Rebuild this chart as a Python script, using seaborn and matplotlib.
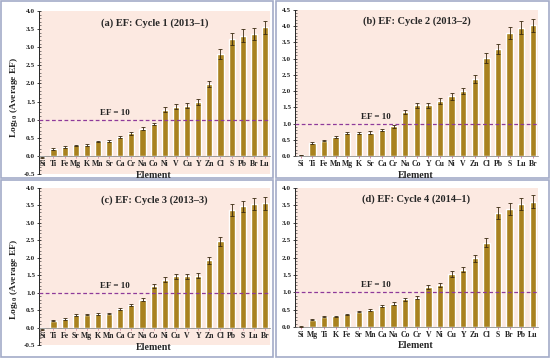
import numpy as np
import pandas as pd
import matplotlib
matplotlib.use("Agg")
import matplotlib.pyplot as plt
from matplotlib.patches import Rectangle
from matplotlib.ticker import MultipleLocator
import seaborn as sns

sns.set_style("ticks")
plt.rcParams['font.family'] = ['Liberation Serif', 'DejaVu Serif']
plt.rcParams['font.weight'] = 'bold'
plt.rcParams['mathtext.fontset'] = 'custom'
plt.rcParams['mathtext.rm'] = 'Liberation Serif:bold'
plt.rcParams['mathtext.bf'] = 'Liberation Serif:bold'
plt.rcParams['mathtext.it'] = 'Liberation Serif:bold'

# ---------------- data ----------------
titles = ["(a) EF: Cycle 1 (2013\u20131)", "(b) EF: Cycle 2 (2013\u20132)",
          "(c) EF: Cycle 3 (2013\u20133)", "(d) EF: Cycle 4 (2014\u20131)"]

elements_a = ["Si", "Ti", "Fe", "Mg", "K", "Mn", "Sr", "Ca", "Cr", "Na", "Co",
              "Ni", "V", "Cu", "Y", "Zn", "Cl", "S", "Pb", "Br", "Lu"]
values_a = [-0.04, 0.19, 0.25, 0.29, 0.30, 0.40, 0.41, 0.52, 0.62, 0.75, 0.88,
            1.27, 1.36, 1.39, 1.48, 1.99, 2.81, 3.23, 3.32, 3.37, 3.55]
errors_a = [0.02, 0.02, 0.02, 0.02, 0.02, 0.02, 0.02, 0.03, 0.03, 0.04, 0.04,
            0.07, 0.07, 0.07, 0.08, 0.09, 0.14, 0.16, 0.17, 0.17, 0.18]

elements_b = ["Si", "Ti", "Fe", "Mn", "Mg", "K", "Sr", "Ca", "Cr", "Na", "Co",
              "Y", "Cu", "Ni", "V", "Zn", "Cl", "Pb", "S", "Lu", "Br"]
values_b = [0.03, 0.40, 0.47, 0.60, 0.70, 0.72, 0.72, 0.80, 0.92, 1.36, 1.56,
            1.56, 1.70, 1.84, 2.00, 2.37, 3.02, 3.30, 3.80, 3.95, 4.03]
errors_b = [0.01, 0.02, 0.02, 0.03, 0.03, 0.03, 0.04, 0.04, 0.05, 0.07, 0.08,
            0.08, 0.09, 0.10, 0.10, 0.12, 0.15, 0.16, 0.19, 0.20, 0.20]

elements_c = ["Si", "Ti", "Fe", "Sr", "Mg", "K", "Mn", "Ca", "Cr", "Na", "Co",
              "Ni", "Cu", "V", "Y", "Zn", "Cl", "Pb", "S", "Lu", "Br"]
values_c = [-0.05, 0.20, 0.25, 0.36, 0.37, 0.39, 0.40, 0.52, 0.64, 0.80, 1.18,
            1.37, 1.47, 1.47, 1.48, 1.93, 2.47, 3.37, 3.47, 3.54, 3.56]
errors_c = [0.02, 0.02, 0.02, 0.02, 0.02, 0.02, 0.02, 0.03, 0.03, 0.04, 0.06,
            0.07, 0.07, 0.07, 0.07, 0.10, 0.12, 0.17, 0.17, 0.18, 0.18]

elements_d = ["Si", "Mg", "Ti", "K", "Fe", "Sr", "Mn", "Ca", "Na", "Co", "Cr",
              "V", "Ni", "Cu", "Y", "Zn", "Cl", "S", "Br", "Pb", "Lu"]
values_d = [0.01, 0.21, 0.30, 0.31, 0.36, 0.44, 0.49, 0.60, 0.67, 0.80, 0.84,
            1.16, 1.20, 1.52, 1.65, 1.98, 2.43, 3.28, 3.40, 3.54, 3.61]
errors_d = [0.01, 0.02, 0.02, 0.02, 0.02, 0.02, 0.03, 0.03, 0.04, 0.04, 0.04,
            0.06, 0.06, 0.08, 0.08, 0.10, 0.12, 0.16, 0.17, 0.17, 0.18]

ef_threshold = 1.0
ef_label = "EF = 10"

# ---------------- layout ----------------
W, H = 550, 358
fig = plt.figure(figsize=(5.5, 3.58), dpi=100)
fig.patch.set_facecolor("white")

def px_axes(l, t, r, b):
    return fig.add_axes([l / W, 1 - b / H, (r - l) / W, (b - t) / H])

panels = [
    dict(box=(39, 11, 270, 174), ylim=(-0.5, 4.0), el=elements_a, v=values_a, e=errors_a, xlim=(-0.3, 20.45)),
    dict(box=(295, 10, 538, 156), ylim=(0.0, 4.5), el=elements_b, v=values_b, e=errors_b, xlim=(-0.5, 20.45)),
    dict(box=(39, 188, 270, 345), ylim=(-0.5, 4.0), el=elements_c, v=values_c, e=errors_c, xlim=(-0.3, 20.45)),
    dict(box=(295, 188, 538, 327), ylim=(0.0, 4.0), el=elements_d, v=values_d, e=errors_d, xlim=(-0.5, 20.45)),
]

bar_color = "#A9821F"
bg_color = "#FCE9E1"
line_color = "#8E3A9A"

for p, title in zip(panels, titles):
    ax = px_axes(*p["box"])
    ax.set_facecolor(bg_color)
    df = pd.DataFrame({"Element": p["el"], "Value": p["v"]})
    sns.barplot(data=df, x="Element", y="Value", order=p["el"], color=bar_color,
                width=0.55, errorbar=None, saturation=1, ax=ax, zorder=2)
    ax.errorbar(np.arange(len(p["el"])), p["v"], yerr=p["e"], fmt="none",
                ecolor="#3a2a10", elinewidth=0.6, capsize=1.6, capthick=0.6, zorder=3)
    ax.axhline(ef_threshold, color=line_color, lw=0.9, ls=(0, (3, 2)), zorder=4)
    ax.text(6.5, ef_threshold + 0.08, ef_label, ha="center", va="bottom",
            fontsize=6.5, fontweight="bold", color="#222222", zorder=5)
    ax.set_ylim(*p["ylim"])
    ax.set_xlim(*p["xlim"])
    ax.yaxis.set_major_locator(MultipleLocator(0.5))
    ax.yaxis.set_minor_locator(MultipleLocator(0.1))
    ax.yaxis.set_major_formatter(matplotlib.ticker.FormatStrFormatter("%.1f"))
    for s in ["top", "right"]:
        ax.spines[s].set_visible(False)
    ax.spines["bottom"].set_position(("data", 0))
    ax.spines["bottom"].set_linewidth(0.5)
    ax.spines["bottom"].set_color("#777777")
    ax.spines["left"].set_linewidth(0.7)
    ax.tick_params(axis="y", which="major", labelsize=5.2, length=2.5, width=0.6,
                   direction="inout", pad=1.5)
    ax.tick_params(axis="y", which="minor", length=1.3, width=0.4, direction="in")
    ax.tick_params(axis="x", labelsize=5.6, length=1.5, width=0.5, pad=1.5,
                   color="#cc5577")
    for lbl in ax.get_xticklabels() + ax.get_yticklabels():
        lbl.set_fontweight("bold")
    ax.set_xlabel("")
    ax.set_ylabel("")
    ax.text(0.5, 0.955, title, transform=ax.transAxes, ha="center", va="top",
            fontsize=7.5, fontweight="bold")

for (x, y) in [(154, 175), (416, 175), (154, 347), (416, 346)]:
    fig.text(x / W, 1 - y / H, "Element", ha="center", va="center", fontsize=7.2, fontweight="bold")

for y in [97, 279]:
    fig.text(14 / W, 1 - y / H, "Log$_{10}$ (Average EF)", rotation=90, ha="center", va="center",
             fontsize=6.8, fontweight="bold")

# panel frames
frame_color = "#A3ABC8"
for (l, t, r, b) in [(1, 1, 273, 178), (276, 1, 549, 178), (1, 180, 273, 357), (276, 180, 549, 357)]:
    fig.patches.append(Rectangle((l / W, 1 - b / H), (r - l) / W, (b - t) / H,
                                 transform=fig.transFigure, fill=False,
                                 edgecolor=frame_color, lw=1.2))

fig.savefig("out.png", dpi=100)
